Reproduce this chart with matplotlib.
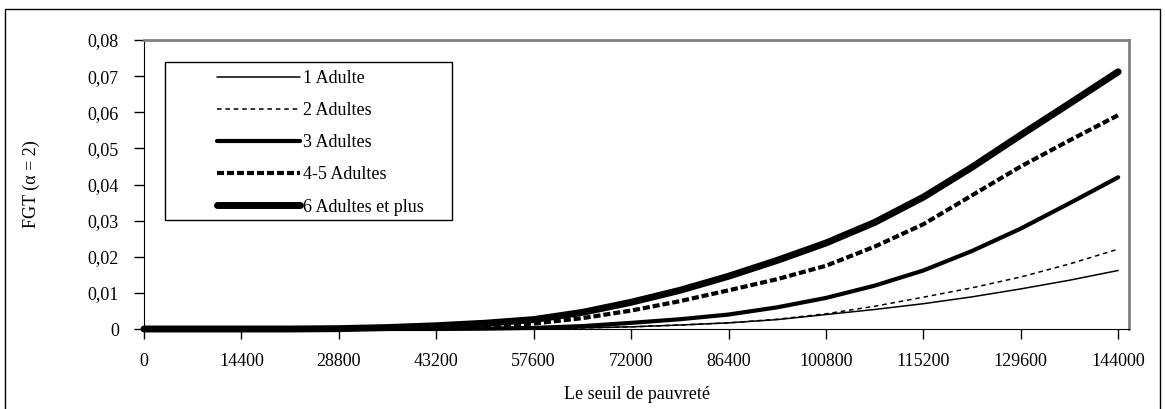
import matplotlib
matplotlib.use("Agg")
from matplotlib import pyplot as plt
from matplotlib.patches import Rectangle

# seuil de pauvreté (pas de 7200)
seuil = [0, 7200, 14400, 21600, 28800, 36000, 43200, 50400, 57600, 64800, 72000,
         79200, 86400, 93600, 100800, 108000, 115200, 122400, 129600, 136800, 144000]

# FGT (alpha = 2) par taille du ménage
adulte_1 = [0, 0, 0, 0, 0, 0, 0, 0, 0.0001, 0.0003, 0.0006,
            0.0011, 0.0017, 0.0026, 0.0040, 0.0054, 0.0070, 0.0089, 0.0111, 0.0135, 0.0162]
adultes_2 = [0, 0, 0, 0, 0, 0, 0, 0, 0.0001, 0.0003, 0.0006,
             0.0011, 0.0017, 0.0027, 0.0042, 0.0063, 0.0088, 0.0114, 0.0144, 0.0180, 0.0221]
adultes_3 = [0, 0, 0, 0, 0, 0, 0, 0.0001, 0.0003, 0.0008, 0.0017,
             0.0027, 0.0040, 0.0060, 0.0086, 0.0120, 0.0162, 0.0216, 0.0278, 0.0348, 0.0420]
adultes_45 = [0, 0, 0, 0, 0, 0.0002, 0.0005, 0.0009, 0.0015, 0.0030, 0.0051,
              0.0077, 0.0107, 0.0138, 0.0175, 0.0228, 0.0290, 0.0370, 0.0450, 0.0522, 0.0592]
adultes_6 = [0, 0, 0, 0, 0.0001, 0.0004, 0.0009, 0.0016, 0.0026, 0.0046, 0.0074,
             0.0107, 0.0146, 0.0190, 0.0238, 0.0295, 0.0365, 0.0448, 0.0537, 0.0624, 0.0712]

noms = ["1 Adulte", "2 Adultes", "3 Adultes", "4-5 Adultes", "6 Adultes et plus"]

x_ticks = [0, 14400, 28800, 43200, 57600, 72000, 86400, 100800, 115200, 129600, 144000]
y_ticks = [0, 0.01, 0.02, 0.03, 0.04, 0.05, 0.06, 0.07, 0.08]
y_labels = ["0", "0,01", "0,02", "0,03", "0,04", "0,05", "0,06", "0,07", "0,08"]

plt.rcParams['font.family'] = ['Liberation Serif', 'DejaVu Serif']

fig = plt.figure(figsize=(11.65, 4.09), dpi=100)
ax = fig.add_axes([144 / 1165, 1 - 329 / 409, 985 / 1165, 289 / 409])

# les cinq courbes (non coupées sur l'axe des x, comme dans Excel)
ax.plot(seuil, adulte_1, color="black", lw=1.1, solid_capstyle="round", label=noms[0], clip_on=False)
ax.plot(seuil, adultes_2, color="black", lw=1.1, dashes=(3, 2.5), label=noms[1], clip_on=False)
ax.plot(seuil, adultes_3, color="black", lw=3, solid_capstyle="round", label=noms[2], clip_on=False)
ax.plot(seuil, adultes_45, color="black", lw=3, dashes=(1.7, 0.7), label=noms[3], clip_on=False)
ax.plot(seuil, adultes_6, color="black", lw=5, solid_capstyle="round", label=noms[4], clip_on=False)

ax.set_xlim(0, 145600)
ax.set_ylim(0, 0.08)
ax.set_xticks(x_ticks)
ax.set_xticklabels([str(v) for v in x_ticks])
ax.set_yticks(y_ticks)
ax.set_yticklabels(y_labels)
ax.tick_params(axis="both", direction="out", length=7, width=1, labelsize=13, colors="black")
ax.tick_params(axis="x", pad=10)
ax.tick_params(axis="y", pad=11)

# cadre de la zone de tracé (style Excel)
ax.spines["left"].set_color("black")
ax.spines["bottom"].set_color("black")
ax.spines["top"].set_color("#808080")
ax.spines["right"].set_color("#808080")
ax.spines["top"].set_linewidth(2)
ax.spines["right"].set_linewidth(2)

ax.set_xlabel("Le seuil de pauvreté", fontsize=13, labelpad=12)
ax.set_ylabel("FGT (\u03b1 = 2)", fontsize=13, labelpad=34)

# légende avec un cadre dessiné à part
leg = ax.legend(loc="upper left", bbox_to_anchor=(0.065, 0.928), frameon=False,
                fontsize=13, handlelength=4.6, handletextpad=0.15, labelspacing=0.84,
                borderpad=0)
ax.add_patch(Rectangle((21 / 985, 1 - 220 / 289 + 40 / 289), 287 / 985, 158 / 289,
                       transform=ax.transAxes, fill=False, edgecolor="black", lw=1, zorder=5))

# cadre extérieur du graphique
fig.add_artist(Rectangle((5 / 1165, -0.1), 1155 / 1165, 1.1 - 9 / 409,
                         transform=fig.transFigure, fill=False, edgecolor="black", lw=1))

plt.savefig("out.png")
